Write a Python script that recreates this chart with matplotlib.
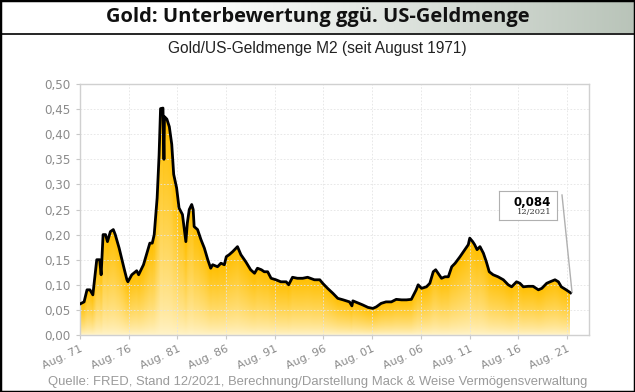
import numpy as np
import matplotlib.pyplot as plt
from matplotlib.patches import Rectangle
from matplotlib.colors import to_rgb

# Gold / US-Geldmenge M2 (decimal year, ratio)
years = [1971.6, 1972.0, 1972.3, 1972.6, 1972.9, 1973.2, 1973.3, 1973.6, 1973.75,
         1973.95, 1974.2, 1974.4, 1974.7, 1975.0, 1975.2, 1975.6, 1976.1, 1976.4,
         1976.5, 1976.9, 1977.4, 1977.6, 1978.1, 1978.5, 1978.75, 1979.0, 1979.2,
         1979.5, 1979.7, 1979.85, 1980.1, 1980.2, 1980.25, 1980.5, 1980.75, 1981.0,
         1981.2, 1981.5, 1981.75, 1982.1, 1982.45, 1982.6, 1982.8, 1983.05, 1983.2,
         1983.3, 1983.65, 1984.0, 1984.35, 1984.7, 1985.0, 1985.2, 1985.7, 1986.05,
         1986.4, 1986.6, 1986.9, 1987.25, 1987.75, 1988.1, 1988.6, 1989.1, 1989.5,
         1989.8, 1990.2, 1990.5, 1990.85, 1991.2, 1991.7, 1992.2, 1992.75, 1993.0,
         1993.4, 1993.9, 1994.45, 1994.95, 1995.65, 1996.2, 1996.5, 1997.0, 1997.55,
         1998.05, 1998.6, 1999.25, 1999.5, 1999.6, 2000.1, 2000.6, 2001.15, 2001.65,
         2002.0, 2002.5, 2003.0, 2003.55, 2004.05, 2004.6, 2005.1, 2005.6, 2006.1,
         2006.3, 2006.65, 2007.15, 2007.5, 2007.85, 2008.1, 2008.35, 2008.7, 2009.05,
         2009.4, 2009.75, 2010.1, 2010.6, 2011.1, 2011.45, 2011.6, 2011.9, 2012.1,
         2012.35, 2012.65, 2013.0, 2013.3, 2013.6, 2014.0, 2014.5, 2015.05, 2015.55,
         2015.9, 2016.4, 2016.75, 2017.1, 2017.6, 2018.1, 2018.65, 2019.0, 2019.5,
         2019.85, 2020.35, 2020.7, 2021.0, 2021.5, 2021.95]
ratio = [0.062, 0.066, 0.090, 0.090, 0.080, 0.133, 0.150, 0.150, 0.120,
         0.200, 0.200, 0.186, 0.206, 0.210, 0.200, 0.173, 0.133, 0.110,
         0.106, 0.120, 0.128, 0.120, 0.140, 0.166, 0.183, 0.183, 0.200,
         0.273, 0.358, 0.451, 0.452, 0.350, 0.435, 0.430, 0.415, 0.380,
         0.320, 0.293, 0.253, 0.240, 0.186, 0.223, 0.250, 0.260, 0.250,
         0.216, 0.210, 0.190, 0.173, 0.150, 0.133, 0.140, 0.136, 0.143,
         0.140, 0.156, 0.160, 0.166, 0.176, 0.160, 0.146, 0.130, 0.123,
         0.133, 0.130, 0.126, 0.126, 0.113, 0.110, 0.106, 0.106, 0.100,
         0.115, 0.113, 0.113, 0.115, 0.110, 0.110, 0.103, 0.093, 0.083,
         0.073, 0.070, 0.066, 0.058, 0.068, 0.064, 0.060, 0.055, 0.053,
         0.056, 0.063, 0.066, 0.066, 0.071, 0.070, 0.070, 0.071, 0.090,
         0.100, 0.093, 0.096, 0.103, 0.126, 0.130, 0.123, 0.113, 0.116,
         0.116, 0.136, 0.143, 0.156, 0.170, 0.180, 0.193, 0.186, 0.180,
         0.170, 0.176, 0.163, 0.146, 0.126, 0.120, 0.116, 0.110, 0.100,
         0.096, 0.106, 0.103, 0.096, 0.097, 0.097, 0.090, 0.093, 0.103,
         0.106, 0.110, 0.106, 0.096, 0.090, 0.084]
tick_years = [1971.58 + 5 * i for i in range(11)]
tick_labels = ["Aug. %02d" % ((71 + 5 * i) % 100) for i in range(11)]
y_ticks = [i * 0.05 for i in range(11)]
last_value = "0,084"
last_date = "12/2021"

W, H = 635, 392
fig = plt.figure(figsize=(W / 100, H / 100), dpi=100)

# title bar with gradient
tb = fig.add_axes([0, 1 - 33 / H, 1, 33 / H])
g = np.clip((np.linspace(0, 1, 300) - 0.3) / 0.7, 0, 1)
c0 = np.array([1, 1, 1])
c1 = np.array(to_rgb("#b9c4b9"))
grad = c0[None, :] * (1 - g[:, None]) + c1[None, :] * g[:, None]
tb.imshow(grad[None, :, :], aspect="auto", extent=[0, 1, 0, 1])
tb.set_xlim(0, 1); tb.set_ylim(0, 1)
tb.axis("off")
tb.text(0.5, 0.47, "Gold: Unterbewertung ggü. US-Geldmenge", ha="center", va="center",
        fontsize=14.5, fontweight="bold", family="Open Sans", color="#111111")
fig.add_artist(plt.Line2D([0, 1], [1 - 33.5 / H] * 2, color="black", lw=1.2))

fig.text(0.5, 1 - 49 / H, "Gold/US-Geldmenge M2 (seit August 1971)", ha="center", va="center",
         fontsize=11.2, family="Liberation Sans", color="#222222")
fig.text(0.5, 1 - 382 / H,
         "Quelle: FRED, Stand 12/2021, Berechnung/Darstellung Mack & Weise Vermögensverwaltung",
         ha="center", va="center", fontsize=9.4, family="Liberation Sans",
         color="#9a9a9a")

ax = fig.add_axes([80 / W, 1 - 335 / H, (589 - 80) / W, (335 - 84) / H])
x0 = 1971.58
x1 = x0 + (589 - 81) / 9.72
ax.set_xlim(x0, x1)
ax.set_ylim(0, 0.5)

# gradient fill under the curve
nx, ny = 1400, 500
xs = np.linspace(x0, x1, nx)
ys = np.linspace(0, 0.5, ny)
v = np.interp(xs, years, ratio, left=np.nan, right=np.nan)
Y = ys[:, None]
r = Y / v[None, :]
top = np.array(to_rgb("#ffbf00"))
bot = np.array(to_rgb("#fff4cc"))
t = np.clip(r, 0, 1) ** 0.7
img = np.zeros((ny, nx, 4))
img[..., :3] = bot * (1 - t[..., None]) + top * t[..., None]
img[..., 3] = np.where(np.isfinite(r) & (r <= 1), 1.0, 0.0)
ax.imshow(img, origin="lower", aspect="auto", extent=[x0, x1, 0, 0.5],
          interpolation="nearest", zorder=1)
ax.plot(years, ratio, color="black", lw=2.0, zorder=3, solid_joinstyle="round")

ax.set_xticks(tick_years)
ax.set_xticklabels(tick_labels, rotation=25, ha="right", rotation_mode="anchor")
ax.set_yticks(y_ticks)
ax.set_yticklabels([("%.2f" % v_).replace(".", ",") for v_ in y_ticks])
ax.tick_params(colors="#c8c8c8", labelcolor="#8a8a8a", labelsize=8, length=3, width=0.8)
for lab in ax.get_yticklabels():
    lab.set_fontsize(8.6)
ax.grid(True, color="#e4e4e4", ls=(0, (2, 2)), lw=0.6, zorder=0)
for s in ax.spines.values():
    s.set_color("#d0d0d0")
    s.set_linewidth(1)

# annotation box for last value
bx = fig.add_axes([499 / W, 1 - 220 / H, 58 / W, 29 / H])
bx.set_xticks([]); bx.set_yticks([])
for s in bx.spines.values():
    s.set_color("#b0b0b0")
bx.text(0.9, 0.62, last_value, ha="right", va="center", fontsize=8.5, fontweight="bold",
        family="DejaVu Sans", transform=bx.transAxes)
bx.text(0.9, 0.28, last_date, ha="right", va="center", fontsize=6,
        family="DejaVu Serif", color="#333333", transform=bx.transAxes)
fig.add_artist(plt.Line2D([562 / W, 572 / W], [1 - 195 / H, 1 - 292 / H],
                          color="#b0b0b0", lw=1))

fig.add_artist(Rectangle((0, 0), 1, 1, transform=fig.transFigure, fill=False,
                         edgecolor="black", lw=2.5))
fig.savefig("out.png", dpi=100)
